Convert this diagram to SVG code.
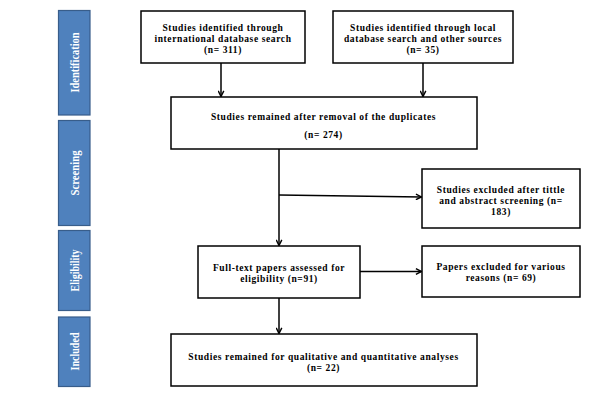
<svg xmlns="http://www.w3.org/2000/svg" width="600" height="400" viewBox="0 0 600 400">
<defs>
<marker id="ah" viewBox="0 0 10 10" refX="9" refY="5" markerWidth="7" markerHeight="7" markerUnits="userSpaceOnUse" orient="auto">
<path d="M1,1 L9,5 L1,9" fill="none" stroke="#000" stroke-width="2"/>
</marker>
</defs>
<style>
.box{fill:#fff;stroke:#000;stroke-width:1.5}
.bar{fill:#4F81BD;stroke:#385D8A;stroke-width:1.2}
.t{font-family:"Liberation Serif","Times New Roman",serif;font-weight:bold;font-size:9.5px;letter-spacing:0.6px;fill:#000;text-anchor:middle}
.bt{font-family:"Liberation Serif","Times New Roman",serif;font-weight:bold;font-size:12px;fill:#fff;text-anchor:middle}
.c{fill:none;stroke:#000;stroke-width:1.5}
</style>
<g id="bar-identification"><rect class="bar" x="58.5" y="10.5" width="31.5" height="104.5"/><text class="bt" transform="translate(78.5,62.5) rotate(-90)" textLength="60" lengthAdjust="spacingAndGlyphs">Identification</text></g>
<g id="bar-screening"><rect class="bar" x="58.5" y="120.5" width="31.5" height="105"/><text class="bt" transform="translate(78.5,173) rotate(-90)" textLength="45" lengthAdjust="spacingAndGlyphs">Screening</text></g>
<g id="bar-eligibility"><rect class="bar" x="58.5" y="230.5" width="31.5" height="80"/><text class="bt" transform="translate(78.5,270.5) rotate(-90)" textLength="42" lengthAdjust="spacingAndGlyphs">Eligibility</text></g>
<g id="bar-included"><rect class="bar" x="58.5" y="317" width="31.5" height="69.5"/><text class="bt" transform="translate(78.5,351.5) rotate(-90)" textLength="38" lengthAdjust="spacingAndGlyphs">Included</text></g>

<g id="connectors">
<line class="c" x1="221" y1="63" x2="221" y2="96.5" marker-end="url(#ah)"/>
<line class="c" x1="423" y1="63" x2="423" y2="96.5" marker-end="url(#ah)"/>
<line class="c" x1="279" y1="149" x2="279" y2="245.5" marker-end="url(#ah)"/>
<line class="c" x1="279" y1="195" x2="421.5" y2="197" marker-end="url(#ah)"/>
<line class="c" x1="360" y1="271.5" x2="421.5" y2="271.5" marker-end="url(#ah)"/>
<line class="c" x1="279" y1="298" x2="279" y2="333.5" marker-end="url(#ah)"/>
</g>

<g id="n1"><rect class="box" x="141" y="11" width="164" height="52"/>
<text class="t" x="223" y="31">Studies identified through</text>
<text class="t" x="223" y="42">international database search</text>
<text class="t" x="223" y="53">(n= 311)</text></g>
<g id="n2"><rect class="box" x="333" y="11" width="180" height="52"/>
<text class="t" x="423" y="31">Studies identified through local</text>
<text class="t" x="423" y="42">database search and other sources</text>
<text class="t" x="423" y="53">(n= 35)</text></g>
<g id="n3"><rect class="box" x="171" y="97" width="306" height="52"/>
<text class="t" x="323.5" y="120">Studies remained after removal of the duplicates</text>
<text class="t" x="323.5" y="138">(n= 274)</text></g>
<g id="n4"><rect class="box" x="422" y="169" width="158" height="59"/>
<text class="t" x="501" y="193">Studies excluded after tittle</text>
<text class="t" x="501" y="204">and abstract screening (n=</text>
<text class="t" x="501" y="215">183)</text></g>
<g id="n5"><rect class="box" x="198" y="246" width="162" height="52"/>
<text class="t" x="279" y="271">Full-text papers assessed for</text>
<text class="t" x="279" y="282">eligibility (n=91)</text></g>
<g id="n6"><rect class="box" x="422" y="246" width="158" height="51"/>
<text class="t" x="501" y="270">Papers excluded for various</text>
<text class="t" x="501" y="281">reasons (n= 69)</text></g>
<g id="n7"><rect class="box" x="171" y="334" width="306" height="52"/>
<text class="t" x="323.5" y="360">Studies remained for qualitative and quantitative analyses</text>
<text class="t" x="323.5" y="371">(n= 22)</text></g>
</svg>
